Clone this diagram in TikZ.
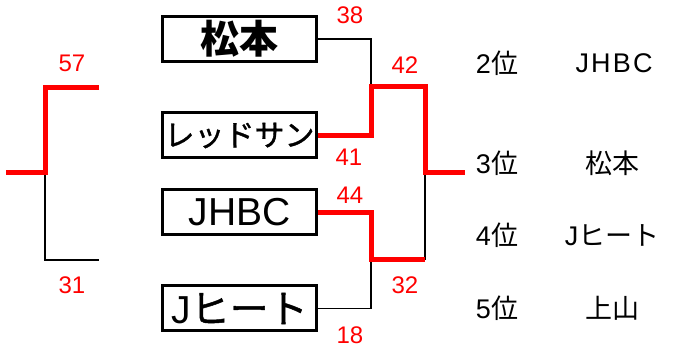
\documentclass[tikz,border=0pt]{standalone}
\usepackage{fontspec}
\setmainfont{Liberation Sans}
\newfontfamily\jp{Noto Sans CJK JP}
\newfontfamily\jpb[FakeBold=1.2]{Noto Sans CJK JP}
\newfontfamily\wide[LetterSpace=8]{Liberation Sans}
\usetikzlibrary{positioning}

\newcommand{\fs}[1]{\fontsize{#1}{#1}\selectfont}

\begin{document}
\begin{tikzpicture}[x=1pt,y=-1pt,
  team/.style={draw,line width=3pt,minimum width=154pt,minimum height=45pt,inner sep=0pt,font=\fs{39}},
  score/.style={inner sep=0pt,text=red,font=\fs{24}},
  rank/.style={inner sep=0pt,font=\fs{27}},
  win/.style={red,line width=5pt},
  lose/.style={black,line width=1.8pt}]
\useasboundingbox (0,0) rectangle (678,347);

  % teams
  \node (matsu) at (239.5,39) [team,font=\fs{39}\bfseries] {\jp 松本};
  \node (red) at (239.5,135.5) [team,font=\fs{30}] {\jpb レッドサン};
  \node (jhbc) at (239.5,212.5) [team] {JHBC};
  \node (jhito) at (239.5,308.5) [team] {J{\jpb ヒート}};

  % bracket corners
  \coordinate (s1) at (371,87);
  \coordinate (s2) at (371,260);
  \coordinate (s2r) at (425,260);
  \coordinate (f) at (425,173);
  \coordinate (fo) at (465,173);

  \coordinate (l1) at (99,88);
  \coordinate (l3) at (45,173);
  \coordinate (l0) at (6,173);
  \coordinate (l4) at (99,260);

  \draw [lose] (matsu.east) -| (s1);
  \draw [lose] (jhito.east) -| (s2);
  \draw [lose] (s2r) -- (f);
  \draw [lose] (l3) |- (l4);
  \draw [win] (red.east) -| (s1) -| (f) -- (fo);
  \draw [win] (jhbc.east) -| (s2) -- (s2r);
  \draw [win] (l1) -| (l3) -- (l0);

  % scores
  \node (sc38) at (350,15) [score] {38};
  \node (sc41) at (349,157) [score] {41};
  \node (sc44) at (350,195) [score] {44};
  \node (sc18) at (350,335) [score] {18};
  \node (sc42) at (405,65) [score] {42};
  \node (sc32) at (405,285) [score] {32};
  \node (sc57) at (72,63) [score] {57};
  \node (sc31) at (72,285) [score] {31};

  % ranking
  \node (r2) at (497,63) [rank] {2{\jp 位}};
  \node (r3) at (497,163) [rank] {3{\jp 位}};
  \node (r4) at (497,235) [rank] {4{\jp 位}};
  \node (r5) at (497,308) [rank] {5{\jp 位}};
  \node (t2) at (613,63) [rank] {\wide JHBC\kern-2.2pt};
  \node (t3) at (612,163) [rank] {\jp 松本};
  \node (t4) at (612,235) [rank] {J{\jp ヒート}};
  \node (t5) at (612,308) [rank] {\jp 上山};

\end{tikzpicture}
\end{document}
